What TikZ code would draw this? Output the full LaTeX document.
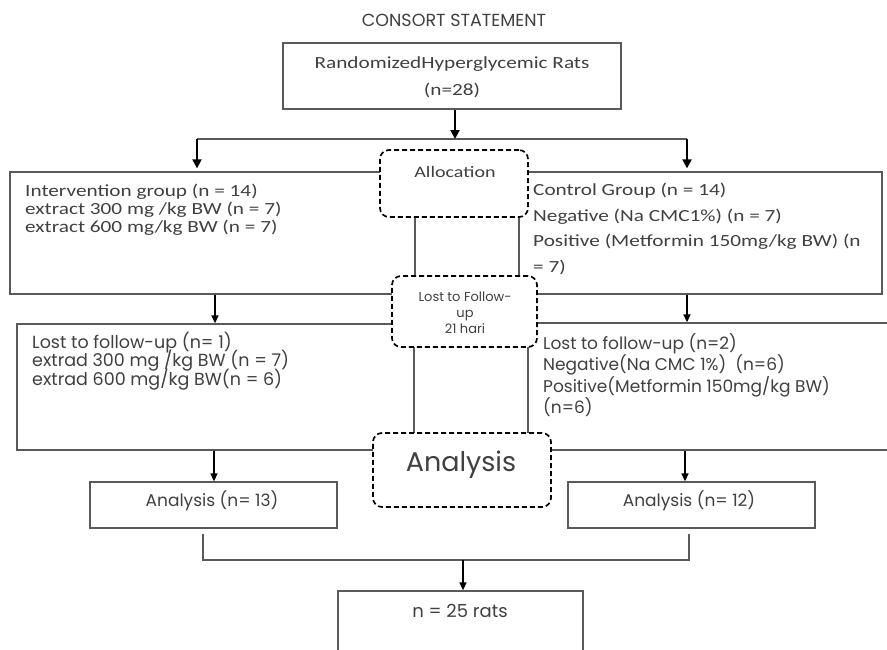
\documentclass[tikz,border=0pt]{standalone}
\usepackage{fontspec}
\setmainfont{Carlito}[FakeStretch=1.25]
\newfontfamily\gothic{Poppins}
\usetikzlibrary{arrows.meta}
\newcommand{\tightls}{\lineskiplimit=-20pt\relax}
\begin{document}
\begin{tikzpicture}[x=1pt,y=-1pt,
 box/.style={draw=black!65, line width=1.3pt, fill=white, inner sep=0pt},
 dbox/.style={draw=black, line width=1.7pt, dash pattern=on 5pt off 3pt, rounded corners=9pt, fill=white, inner sep=0pt},
 txt/.style={inner sep=0pt, text=black!75, align=left},
 arr/.style={-{Triangle[length=9pt,width=9pt]}, line width=2pt, black},
 arrs/.style={-{Triangle[length=8pt,width=7pt]}, line width=1.4pt, black},
 ln/.style={line width=1.3pt, draw=black!65}]
\useasboundingbox (0,0) rectangle (887,649);
\fill[white] (0,0) rectangle (887,649);
\begin{scope}
\clip (0,0) rectangle (887,649);
% title
\node[txt, font=\gothic\fontsize{17.5}{18}\selectfont] (title) at (454,20) {CONSORT STATEMENT};
% solid boxes
\node[box, minimum width=338pt, minimum height=66pt] (top) at (452,76) {};
\node[txt, align=center, font=\fontsize{17}{27}\selectfont] (toptxt) at (452,77) {RandomizedHyperglycemic Rats\\(n=28)};
\node[box, minimum width=405pt, minimum height=122pt] (interv) at (212.5,233) {};
\node[box, minimum width=363pt, minimum height=122pt] (control) at (700.5,233) {};
\node[box, minimum width=397pt, minimum height=126pt] (lostl) at (215.5,387) {};
\node[box, minimum width=367pt, minimum height=127pt] (lostr) at (711.5,386.5) {};
\node[box, minimum width=247pt, minimum height=46pt] (an13) at (213.5,505) {};
\node[box, minimum width=247pt, minimum height=46pt] (an12) at (691.5,505) {};
\node[box, minimum width=245pt, minimum height=70pt] (n25) at (460.5,626) {};
% dashed boxes
\node[dbox, minimum width=148pt, minimum height=67pt] (alloc) at (454,183.5) {};
\node[dbox, minimum width=145pt, minimum height=71pt] (lost) at (464.5,311.5) {};
\node[dbox, minimum width=178pt, minimum height=74pt] (anal) at (462,470) {};
% texts
\node[txt, anchor=west, font=\fontsize{17}{18}\selectfont\tightls] (intervtxt) at (25,210)
 {Intervention group (n = 14)\\extract 300 mg /kg BW (n = 7)\\extract 600 mg/kg BW (n = 7)};
\node[txt, anchor=west, font=\fontsize{17}{25.7}\selectfont] (controltxt) at (533,229)
 {Control Group (n = 14)\\Negative (Na CMC1\%) (n = 7)\\Positive (Metformin 150mg/kg BW) (n\\= 7)};
\node[txt, font=\fontsize{16}{16}\selectfont] (alloctxt) at (455,172) {Allocation};
\node[txt, align=center, font=\gothic\fontsize{13}{16}\selectfont\tightls] (losttxt) at (465,313) {Lost to Follow-\\up\\21 hari};
\node[txt, anchor=west, font=\gothic\fontsize{17.5}{18.5}\selectfont\tightls] (lostltxt) at (32,361)
 {Lost to follow-up (n= 1)\\extrad 300 mg /kg BW (n = 7)\\extrad 600 mg/kg BW(n = 6)};
\node[txt, anchor=west, font=\gothic\fontsize{17}{21.3}\selectfont\tightls] (lostrtxt) at (543,375)
 {Lost to follow-up (n=2)\\Negative(Na CMC 1\%)\ \ (n=6)\\Positive(Metformin 150mg/kg BW)\\(n=6)};
\node[txt, font=\gothic\fontsize{27}{28}\selectfont] (analtxt) at (461,465) {Analysis};
\node[txt, font=\gothic\fontsize{17}{18}\selectfont] (an13txt) at (212,501) {Analysis (n= 13)};
\node[txt, font=\gothic\fontsize{17}{18}\selectfont] (an12txt) at (689,501) {Analysis (n= 12)};
\node[txt, font=\gothic\fontsize{18}{18}\selectfont] (n25txt) at (460,611) {n = 25 rats};
% connectors top
\coordinate (jl) at (197,139);
\coordinate (jr) at (687,139);
\coordinate (jm) at (455,139);
\draw[ln, line width=1.6pt] (jl) -- (jr);
\draw[arr] (top.south -| jm) -- (jm);
\draw[arr, shorten >=3pt] (jl) -- (jl |- interv.north);
\draw[arr, shorten >=3pt] (jr) -- (jr |- control.north);
\draw[arrs] (interv.south -| 215,0) -- (lostl.north -| 215,0);
\draw[arrs] (control.south -| 687,0) -- (lostr.north -| 687,0);
\draw[arrs] (lostl.south -| 214,0) -- (an13.north -| 214,0);
\draw[arrs] (lostr.south -| 685,0) -- (an12.north -| 685,0);
\coordinate (bj) at (463,560);
\draw[ln, shorten <=5pt, shorten >=5pt] (an13.south -| 203,0) |- (bj) -| (an12.south -| 689,0);
\draw[arrs] (bj) -- (n25.north -| bj);
\end{scope}
\end{tikzpicture}
\end{document}
